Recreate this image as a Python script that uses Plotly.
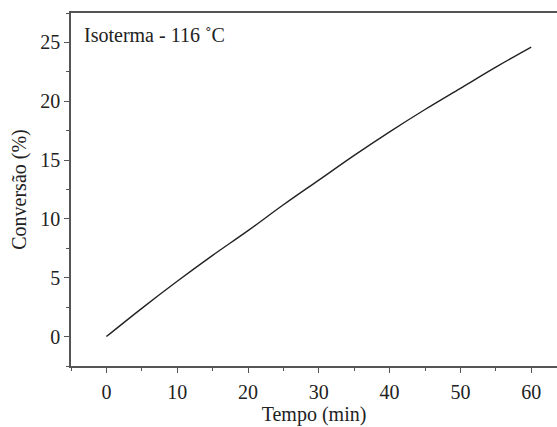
import plotly.graph_objects as go

tempo_min = [0, 5, 10, 15, 20, 25, 30, 35, 40, 45, 50, 55, 60]
conversao_pct = [0, 2.4, 4.7, 6.9, 9.0, 11.2, 13.3, 15.4, 17.4, 19.3, 21.1, 22.9, 24.6]
x_ticks = [0, 10, 20, 30, 40, 50, 60]
y_ticks = [0, 5, 10, 15, 20, 25]

font_family = "Liberation Serif"
axis_color = "#555555"

fig = go.Figure()
fig.add_trace(go.Scatter(
    x=tempo_min, y=conversao_pct, mode="lines",
    line=dict(color="#222222", width=1.4, shape="spline"),
    showlegend=False, hoverinfo="skip",
))

fig.update_layout(
    width=557, height=427,
    margin=dict(l=71, r=0, t=13, b=61),
    paper_bgcolor="white", plot_bgcolor="white",
    font=dict(family=font_family, size=20, color="#222222"),
    annotations=[dict(
        text="Isoterma - 116 ˚C", x=0.022, y=0.975, xref="paper", yref="paper",
        xanchor="left", yanchor="top", showarrow=False,
        font=dict(family=font_family, size=20, color="#222222"),
    )],
)

fig.update_xaxes(
    range=[-5, 63.64], tickvals=x_ticks, ticks="outside", ticklen=5, tickwidth=1.2,
    tickcolor=axis_color, showline=True, linecolor=axis_color, linewidth=1.5,
    mirror=True, showgrid=False, zeroline=False,
    minor=dict(dtick=5, tick0=0, ticks="outside", ticklen=3, tickcolor=axis_color, tickwidth=1.2, showgrid=False),
    title=dict(text="Tempo (min)", font=dict(family=font_family, size=20), standoff=0),
    tickfont=dict(family=font_family, size=20),
    ticklabelstandoff=2,
)
fig.update_yaxes(
    range=[-2.5, 27.5], tickvals=y_ticks, ticks="outside", ticklen=5, tickwidth=1.2,
    tickcolor=axis_color, showline=True, linecolor=axis_color, linewidth=1.5,
    showgrid=False, zeroline=False,
    minor=dict(dtick=2.5, tick0=0, ticks="outside", ticklen=3, tickcolor=axis_color, tickwidth=1.2, showgrid=False),
    title=dict(text="Conversão (%)", font=dict(family=font_family, size=20), standoff=8),
    tickfont=dict(family=font_family, size=20),
)

fig.write_html("out.html")
